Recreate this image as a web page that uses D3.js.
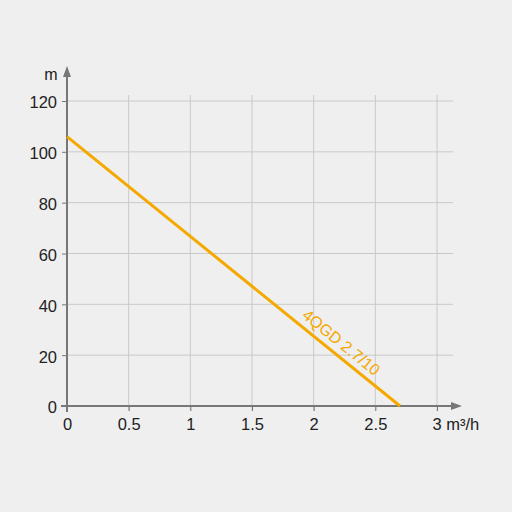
<!DOCTYPE html>
<html><head><meta charset="utf-8">
<script src="https://cdn.jsdelivr.net/npm/d3@7"></script>
<style>body{margin:0;background:#efefef;}svg{display:block;}</style>
</head><body>
<script>
const xTicks = [0, 0.5, 1, 1.5, 2, 2.5, 3];
const xTickLabels = ["0", "0.5", "1", "1.5", "2", "2.5", "3 m³/h"];
const yTicks = [0, 20, 40, 60, 80, 100, 120];
const flow = [0, 2.7];
const head = [106, 0];
const seriesName = "4QGD 2.7/10";
const labelAt = 2.16;

const W = 512, H = 512;
const FONT = "Liberation Sans, Arial, sans-serif";
const svg = d3.select("body").append("svg").attr("width", W).attr("height", H);
svg.append("rect").attr("width", W).attr("height", H).attr("fill", "#efefef");

const x = d3.scaleLinear().domain([0, 3]).range([67, 437]);
const y = d3.scaleLinear().domain([0, 120]).range([406, 101]);
const axisColor = "#777", gridColor = "#c9c9c9";

// grid
svg.append("g").selectAll("line").data(yTicks.filter(d => d > 0)).join("line")
  .attr("x1", x(0)).attr("x2", 453).attr("y1", d => y(d)).attr("y2", d => y(d))
  .attr("stroke", gridColor).attr("stroke-width", 1);
svg.append("g").selectAll("line").data(xTicks.filter(d => d > 0)).join("line")
  .attr("x1", d => x(d)).attr("x2", d => x(d)).attr("y1", 95).attr("y2", y(0) + 5)
  .attr("stroke", gridColor).attr("stroke-width", 1);

// y axis ticks & labels
const yAxis = d3.axisLeft(y).tickValues(yTicks).tickSize(5).tickPadding(5).tickFormat(d3.format("d"));
const gy = svg.append("g").attr("transform", `translate(${x(0)},0)`).call(yAxis);
gy.select(".domain").remove();
gy.selectAll("line").attr("stroke", axisColor);
gy.selectAll("text").attr("font-family", FONT).attr("font-size", 16.5).attr("fill", "#222").attr("dy", "0.42em");

const xAxis = d3.axisBottom(x).tickValues(xTicks).tickSize(5).tickPadding(7).tickFormat((d, i) => xTickLabels[i]);
const gx = svg.append("g").attr("transform", `translate(0,${y(0)})`).call(xAxis);
gx.select(".domain").remove();
gx.selectAll("line").attr("stroke", axisColor);
gx.selectAll("text").attr("font-family", FONT).attr("font-size", 16.5).attr("fill", "#222");
gx.selectAll(".tick").filter(d => d === 3).select("text").attr("text-anchor", "start").attr("dx", -5);

// axes with arrows
svg.append("line").attr("x1", x(0)).attr("x2", x(0)).attr("y1", y(0) + 6).attr("y2", 74)
  .attr("stroke", axisColor).attr("stroke-width", 2);
svg.append("path").attr("d", `M${x(0)-4},${77} L${x(0)},${66} L${x(0)+4},${77} Z`).attr("fill", axisColor);
svg.append("line").attr("x1", x(0) - 6).attr("x2", 455).attr("y1", y(0)).attr("y2", y(0))
  .attr("stroke", axisColor).attr("stroke-width", 2);
svg.append("path").attr("d", `M${451},${y(0)-4} L${462},${y(0)} L${451},${y(0)+4} Z`).attr("fill", axisColor);

svg.append("text").attr("x", 51).attr("y", 79.5).attr("text-anchor", "middle")
  .attr("font-family", FONT).attr("font-size", 16).attr("fill", "#222").text("m");

// curve
const data = flow.map((f, i) => ({ f, h: head[i] }));
svg.append("path").datum(data)
  .attr("d", d3.line().x(d => x(d.f)).y(d => y(d.h)))
  .attr("fill", "none").attr("stroke", "#f5a800").attr("stroke-width", 3);

// label along line
const hAt = d3.scaleLinear().domain(flow).range(head)(labelAt);
const ang = Math.atan2(y(head[1]) - y(head[0]), x(flow[1]) - x(flow[0])) * 180 / Math.PI;
svg.append("text")
  .attr("transform", `translate(${x(labelAt)},${y(hAt)}) rotate(${ang})`)
  .attr("y", -7).attr("text-anchor", "middle")
  .attr("font-family", FONT).attr("font-size", 16)
  .attr("fill", "#f5a800").text(seriesName);
</script>
</body></html>
